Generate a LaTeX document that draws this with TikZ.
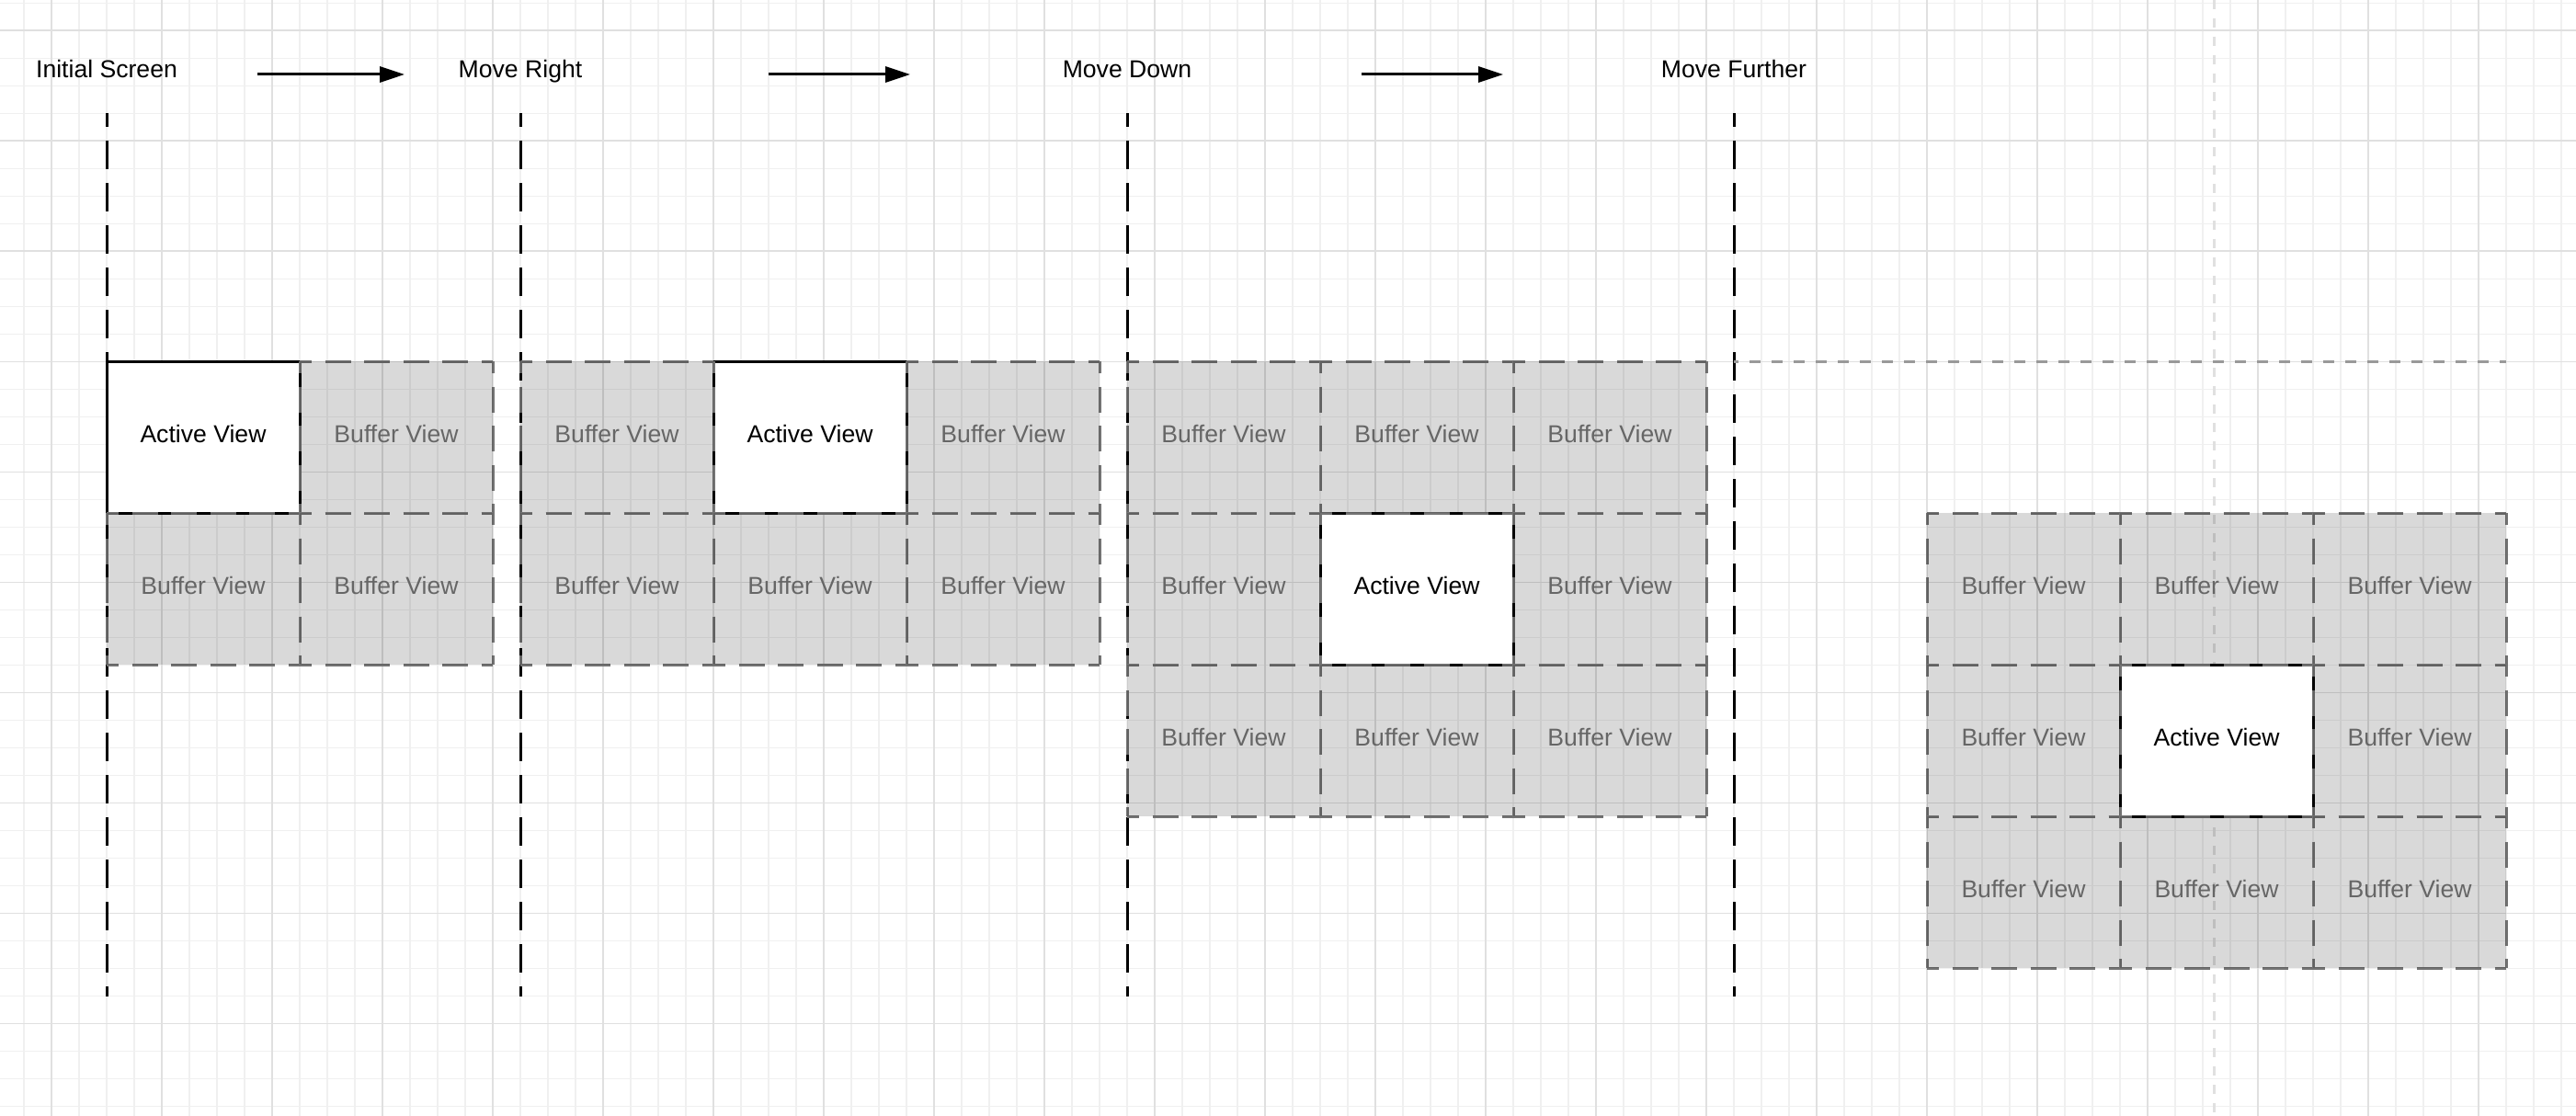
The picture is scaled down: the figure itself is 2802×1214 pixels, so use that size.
\documentclass[tikz,border=0pt]{standalone}
\usepackage{fontspec}
\setmainfont{Liberation Sans}
\usetikzlibrary{arrows.meta}

\definecolor{bordergray}{HTML}{737373}
\definecolor{textgray}{HTML}{666666}

\begin{document}
\begin{tikzpicture}[x=1pt, y=-1pt,
    every node/.style={font=\fontsize{26.6}{32}\selectfont},
    minorgrid/.style={draw=black!6, line width=1.2pt},
    majorgrid/.style={draw=black!12, line width=1.6pt},
    guide/.style={draw=black, line width=3pt, dash pattern=on 30.7pt off 15.3pt, dash phase=15.7pt},
    edgeline/.style={draw=black!40, line width=3pt, dash pattern=on 12pt off 12pt, dash phase=7pt},
    midline/.style={draw=black!12, line width=3pt, dash pattern=on 10pt off 10pt},
    bufedge/.style={draw=bordergray, line width=3pt, dash pattern=on 28pt off 14.5pt, dash phase=15pt},
    cell/.style={minimum width=210pt, minimum height=165pt, inner sep=0pt, outer sep=0pt,
                 anchor=north west, text height=19.5pt, text depth=8pt},
    active/.style={cell, draw=black, fill=white, line width=3pt},
    buffer/.style={cell, fill=black, fill opacity=0.15, text opacity=1, text=textgray,
        append after command={\pgfextra{\draw[bufedge]
            (\tikzlastnode.north west) -- (\tikzlastnode.north east)
            (\tikzlastnode.north west) -- (\tikzlastnode.south west)
            (\tikzlastnode.north east) -- (\tikzlastnode.south east)
            (\tikzlastnode.south west) -- (\tikzlastnode.south east);}}},
    move/.style={line width=3pt, -{Triangle[length=27pt, width=17pt]}}]
        \useasboundingbox (0,0) rectangle (2802,1214);
        \fill[white] (0,0) rectangle (2802,1214);
        % background grid
        \foreach \gx in {26,56,...,2786} \draw[minorgrid] (\gx,0) -- (\gx,1214);
        \foreach \gy in {3.3,33.3,...,1203.3} \draw[minorgrid] (0,\gy) -- (2802,\gy);
        \foreach \gx in {56,176,...,2696} \draw[majorgrid] (\gx,0) -- (\gx,1214);
        \foreach \gy in {33.3,153.3,...,1113.3} \draw[majorgrid] (0,\gy) -- (2802,\gy);
        \coordinate (mid-t) at (2408,0);
        \coordinate (mid-b) at (2408,1214);
        \draw[midline] (mid-t) -- (mid-b);
        % steps
        \foreach \i/\gx/\txt in {1/116/Initial Screen, 2/566/Move Right, 3/1226/Move Down, 4/1886/Move Further} {
            \node[anchor=base] (lbl\i) at (\gx,85) {\txt};
            \coordinate (top\i) at (\gx,123);
            \coordinate (bot\i) at (\gx,1084);
            \draw[guide] (top\i) -- (bot\i);
        }
        \coordinate (arr1s) at (280,81);
        \coordinate (arr1e) at (440,81);
        \coordinate (arr2s) at (836,81);
        \coordinate (arr2e) at (990,81);
        \coordinate (arr3s) at (1481,81);
        \coordinate (arr3e) at (1635,81);
        \draw[move] (arr1s) -- (arr1e);
        \draw[move] (arr2s) -- (arr2e);
        \draw[move] (arr3s) -- (arr3e);
        % initial screen
        \node[active] (act1) at (116,393) {Active View};
        \foreach \c/\r in {1/0,0/1,1/1}
            \node[buffer] (buf1-\c-\r) at (116+210*\c,393+165*\r) {Buffer View};
        % move right
        \node[active] (act2) at (776,393) {Active View};
        \foreach \c/\r in {0/0,2/0,0/1,1/1,2/1}
            \node[buffer] (buf2-\c-\r) at (566+210*\c,393+165*\r) {Buffer View};
        % move down
        \node[active] (act3) at (1436,558) {Active View};
        \foreach \c/\r in {0/0,1/0,2/0,0/1,2/1,0/2,1/2,2/2}
            \node[buffer] (buf3-\c-\r) at (1226+210*\c,393+165*\r) {Buffer View};
        % move further
        \node[active] (act4) at (2306,723) {Active View};
        \foreach \c/\r in {0/0,1/0,2/0,0/1,2/1,0/2,1/2,2/2}
            \node[buffer] (buf4-\c-\r) at (2096+210*\c,558+165*\r) {Buffer View};
        \coordinate (edge-s) at (1886,393);
        \coordinate (edge-e) at (2726,393);
        \draw[edgeline] (edge-s) -- (edge-e);
      \end{tikzpicture}
\end{document}
